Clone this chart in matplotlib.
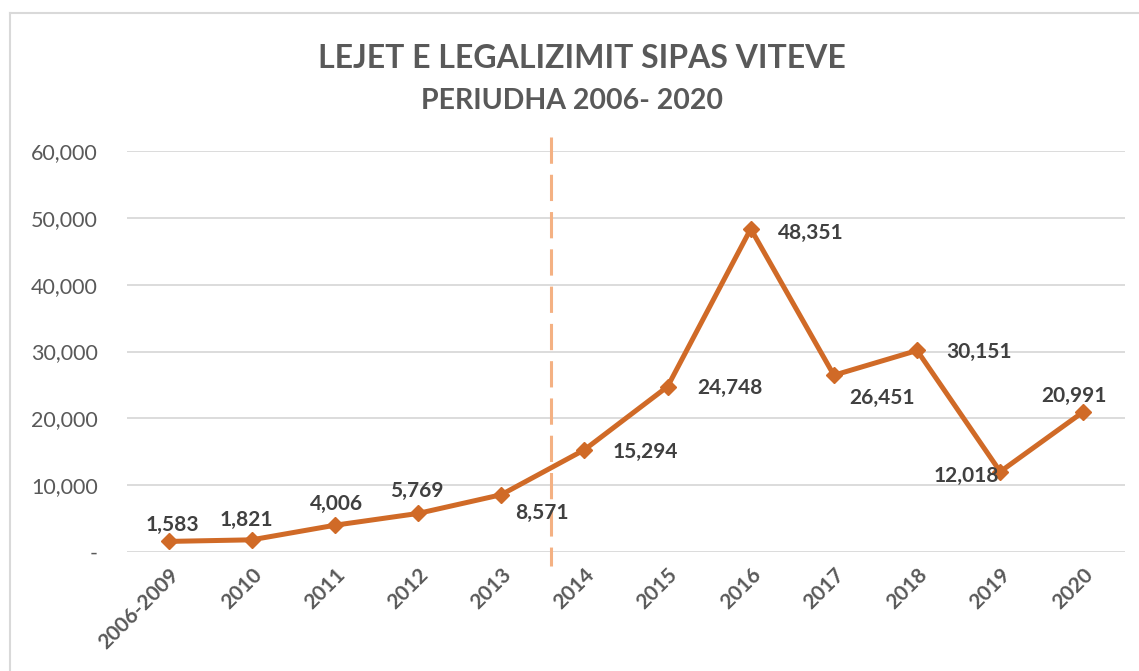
import matplotlib.pyplot as plt
from matplotlib.lines import Line2D
from matplotlib.ticker import FuncFormatter
import matplotlib.transforms as mtransforms

YEARS = ['2006-2009', '2010', '2011', '2012', '2013', '2014', '2015',
         '2016', '2017', '2018', '2019', '2020']
PERMITS = [1583, 1821, 4006, 5769, 8571, 15294, 24748, 48351, 26451,
           30151, 12018, 20991]
# label offsets from the marker, in points
LABEL_OFFSETS = [(3, 12), (-4, 14), (1, 15), (-1, 16.5), (29, -13),
                 (44, -1.5), (45, -1), (43, -3), (34.5, -16.5),
                 (44.5, -1), (-24.5, -3), (-6.5, 11.5)]
DIVIDER_X = 4.6

LINE_COLOR = '#D06A27'
DASH_COLOR = '#F4B183'
GRID_COLOR = '#D9D9D9'
TEXT_GRAY = '#595959'
LABEL_GRAY = '#404040'

plt.rcParams['font.family'] = ['Lato', 'DejaVu Sans']


def fmt_thousands(v, pos):
    if v == 0:
        return '-'
    return f'{v:,.0f}'


def main():
    fig = plt.figure(figsize=(11.39, 6.71), dpi=100)
    ax = fig.add_axes([127 / 1139, 1 - 552 / 671,
                       (1125 - 127) / 1139, 401 / 671])

    x = list(range(len(YEARS)))
    ax.plot(x, PERMITS, color=LINE_COLOR, lw=3.6, marker='D',
            markersize=8, zorder=3)

    for xi, val, (dx, dy) in zip(x, PERMITS, LABEL_OFFSETS):
        ax.annotate(f'{val:,}', (xi, val), xytext=(dx, dy),
                    textcoords='offset points', ha='center', va='center',
                    fontsize=15, fontweight='bold', color=LABEL_GRAY,
                    zorder=4)

    # dashed divider between 2013 and 2014
    trans = mtransforms.blended_transform_factory(ax.transData, ax.transAxes)
    ax.plot([DIVIDER_X, DIVIDER_X], [1.035, -0.035], transform=trans,
            color=DASH_COLOR, lw=2.2, linestyle=(0, (8.6, 3.6)),
            clip_on=False, zorder=2)

    ax.set_xlim(-0.5, len(YEARS) - 0.5)
    ax.set_ylim(0, 60000)
    ax.set_yticks(range(0, 60001, 10000))
    ax.yaxis.set_major_formatter(FuncFormatter(fmt_thousands))
    ax.set_xticks(x)
    ax.set_xticklabels(YEARS, rotation=45, ha='right', va='top',
                       rotation_mode='anchor', fontsize=15,
                       fontweight='bold', color=TEXT_GRAY)
    ax.tick_params(axis='y', labelsize=15.5, labelcolor=TEXT_GRAY,
                   length=0, pad=21)
    ax.tick_params(axis='x', length=0, pad=9)
    ax.grid(axis='y', color=GRID_COLOR, lw=1.3)
    ax.set_axisbelow(True)
    for side in ax.spines.values():
        side.set_visible(False)

    fig.text(582 / 1139, 1 - 58 / 671, 'LEJET E LEGALIZIMIT SIPAS VITEVE',
             ha='center', va='center', fontsize=23, fontweight='bold',
             color=TEXT_GRAY)
    fig.text(572 / 1139, 1 - 101 / 671, 'PERIUDHA 2006- 2020',
             ha='center', va='center', fontsize=20.5, fontweight='bold',
             color=TEXT_GRAY)

    # chart frame (only left and top edges visible in the crop)
    fig.add_artist(Line2D([10 / 1139, 10 / 1139], [0, 1 - 13 / 671],
                          color=GRID_COLOR, lw=1.5))
    fig.add_artist(Line2D([10 / 1139, 1], [1 - 13 / 671, 1 - 13 / 671],
                          color=GRID_COLOR, lw=1.5))

    fig.savefig('out.png', dpi=100)


if __name__ == '__main__':
    main()
